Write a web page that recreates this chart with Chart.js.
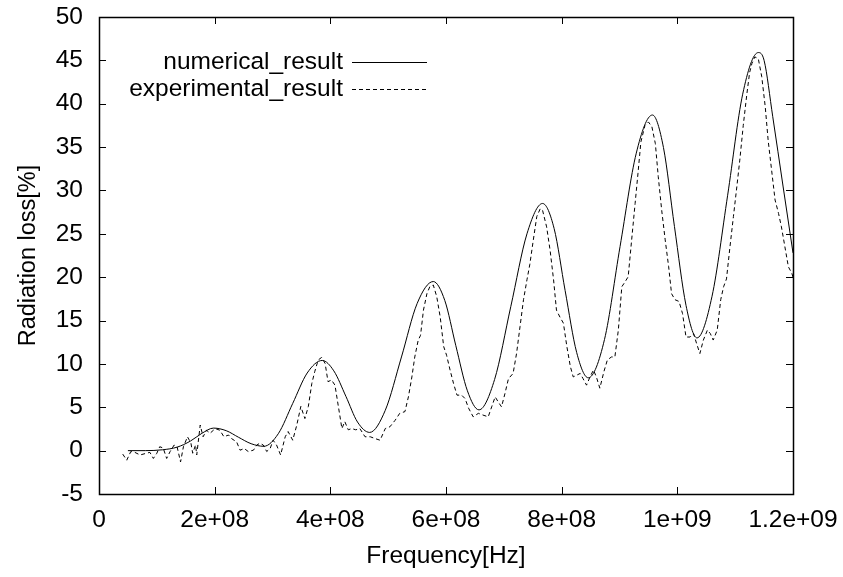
<!DOCTYPE html>
<html>
<head>
<meta charset="utf-8">
<script src="https://cdn.jsdelivr.net/npm/chart.js"></script>
<style>
  html, body { margin: 0; padding: 0; background: #ffffff; }
  #wrap { width: 843px; height: 577px; }
</style>
</head>
<body>
<div id="wrap"><canvas id="lossChart" width="843" height="577"></canvas></div>
<script>
// frequencies in MHz, loss in percent
var numFreq = [50, 80, 110, 135, 158, 178, 198, 220, 241, 263, 285, 310, 335, 360, 386, 406, 427, 447, 468,
    495, 523, 550, 578, 598, 617, 637, 657, 684, 712, 740, 767, 787, 806, 826, 846, 874, 901, 929, 957,
    976, 995, 1015, 1034, 1060, 1087, 1113, 1140, 1150, 1165, 1183, 1200];
var numLoss = [0.0, 0.0, 0.1, 0.4, 1.1, 2.0, 2.6, 2.3, 1.55, 0.8, 0.5, 1.95, 5.45, 8.95, 10.4, 9.2, 6.25, 3.3, 2.1,
    4.65, 10.8, 16.95, 19.5, 17.3, 12.1, 6.9, 4.7, 8.2, 16.6, 25.0, 28.5, 25.6, 18.45, 11.3, 8.4, 12.8, 23.55, 34.3, 38.7,
    34.95, 25.85, 16.75, 13.0, 17.8, 29.45, 41.1, 45.9, 45.0, 38.5, 30.4, 22.8];

var expFreq = [41, 48, 55, 62, 71, 82, 88, 94, 100, 105, 111, 117, 123, 130, 135, 141, 146, 153, 159, 162, 167, 169,
    175, 180, 186, 192, 201, 209, 216, 224, 229, 238, 244, 251, 258, 267, 273, 278, 284, 290, 296, 301, 307, 314,
    322, 327, 335, 342, 349, 356, 362, 368, 373, 379, 385, 391, 396, 402, 408, 414, 420, 425, 431, 437, 444, 451,
    460, 469, 477, 486, 495, 503, 512, 520, 529, 535, 541, 546, 552, 556, 561, 567, 572, 578, 584, 590, 596, 601,
    607, 613, 619, 627, 633, 639, 647, 656, 664, 673, 679, 685, 690, 696, 702, 708, 716, 722, 728, 734, 740, 745,
    751, 757, 763, 767, 774, 780, 786, 791, 797, 803, 809, 815, 820, 826, 832, 837, 843, 849, 855, 860, 866, 873,
    879, 886, 892, 898, 904, 910, 915, 921, 927, 932, 937, 944, 950, 956, 962, 967, 973, 979, 985, 990, 996, 1003,
    1009, 1015, 1022, 1028, 1034, 1039, 1045, 1052, 1057, 1062, 1069, 1075, 1080, 1085, 1091, 1097, 1103, 1108,
    1114, 1120, 1125, 1129, 1134, 1140, 1146, 1152, 1157, 1163, 1169, 1175, 1180, 1186, 1192, 1198, 1200];
var expLoss = [-0.4, -1.1, -0.1, -0.2, -0.5, -0.3, -0.2, -0.9, -0.3, 0.45, 0.3, -0.9, -0.1, 0.65, 0.45, -1.3, 0.45, 1.6, 0.85, -0.3, 0.65, -0.5,
    2.95, 1.6, 2.35, 2.0, 2.55, 2.35, 1.6, 1.8, 1.4, 1.0, 0.05, 0.25, -0.1, 0.05, 0.65, 0.85, 0.65, -0.1, 0.25, 1.2, 0.65, -0.5,
    1.6, 2.2, 1.2, 2.95, 5.1, 3.7, 5.1, 7.75, 9.1, 10.45, 10.75, 10.05, 7.95, 8.15, 7.55, 5.05, 2.55, 3.35, 2.4, 2.55, 2.4, 2.55,
    1.6, 1.6, 1.4, 1.2, 2.55, 2.75, 3.5, 4.3, 4.5, 6.2, 8.5, 10.8, 12.75, 13.3, 16.2, 18.1, 18.9, 19.1, 17.75, 15.4, 12.0, 11.0,
    9.3, 7.75, 6.4, 6.4, 6.0, 4.9, 3.9, 4.3, 4.1, 3.9, 5.05, 6.2, 5.65, 5.05, 6.6, 8.3, 8.9, 11.2, 14.3, 17.4, 19.7, 21.5,
    24.3, 27.0, 27.9, 27.7, 25.8, 23.1, 19.7, 16.2, 15.4, 14.7, 12.0, 9.7, 8.5, 8.7, 8.9, 8.3, 7.55, 8.5, 9.3, 8.5, 7.2, 9.1,
    10.45, 10.8, 10.8, 13.9, 18.9, 19.5, 20.05, 24.3, 28.5, 32.0, 35.6, 37.5, 37.9, 37.35, 35.4, 31.6, 27.7, 24.3, 21.2, 18.1, 17.4, 17.2,
    15.8, 13.1, 13.1, 13.5, 12.2, 11.2, 12.75, 13.9, 13.5, 12.75, 13.9, 17.4, 18.9, 19.8, 23.5, 27.0, 30.5, 33.5,
    37.5, 41.0, 43.6, 44.65, 45.4, 45.2, 43.1, 39.65, 35.8, 32.35, 28.9, 27.35, 25.8, 23.5, 21.2, 20.45, 20.0];

var xTicks = [0, 2e8, 4e8, 6e8, 8e8, 1e9, 1.2e9];
var yTicks = [-5, 0, 5, 10, 15, 20, 25, 30, 35, 40, 45, 50];

var FONT = '"Liberation Sans", Arial, sans-serif';
var FSIZE = 24.5;     // horizontal text
var YTITLE = 23.5;    // rotated axis title

function toPoints(freq, loss) {
    var pts = [];
    for (var i = 0; i < freq.length; i++) {
        pts.push({ x: freq[i] * 1e6, y: loss[i] });
    }
    return pts;
}

// gnuplot style exponent labels: 2e+08, 1.2e+09
function expLabel(v) {
    if (v === 0) return '0';
    var e = Math.floor(Math.log10(v) + 1e-9);
    var m = Math.round(v / Math.pow(10, e) * 10) / 10;
    return m + 'e+' + (e < 10 ? '0' + e : e);
}

// frame, inward ticks on all four sides, and the key
var gnuplotFrame = {
    id: 'gnuplotFrame',
    afterDatasetsDraw: function (chart) {
        var ctx = chart.ctx, a = chart.chartArea;
        var xs = chart.scales.x, ys = chart.scales.y;
        var tl = 7;
        ctx.save();
        ctx.strokeStyle = '#000';
        ctx.lineWidth = 1;
        ctx.setLineDash([]);
        ctx.beginPath();
        xTicks.forEach(function (v) {
            var px = Math.round(xs.getPixelForValue(v)) + 0.5;
            ctx.moveTo(px, a.bottom); ctx.lineTo(px, a.bottom - tl);
            ctx.moveTo(px, a.top); ctx.lineTo(px, a.top + tl);
        });
        yTicks.forEach(function (v) {
            var py = Math.round(ys.getPixelForValue(v)) + 0.5;
            ctx.moveTo(a.left, py); ctx.lineTo(a.left + tl, py);
            ctx.moveTo(a.right, py); ctx.lineTo(a.right - tl, py);
        });
        ctx.stroke();
        ctx.lineWidth = 1.5;
        ctx.strokeRect(Math.round(a.left) + 0.5, Math.round(a.top) + 0.5,
            Math.round(a.right - a.left), Math.round(a.bottom - a.top));

        // key, top left inside the plot
        ctx.font = FSIZE + 'px ' + FONT;
        ctx.fillStyle = '#000';
        ctx.textAlign = 'right';
        ctx.textBaseline = 'middle';
        ctx.lineWidth = 1;
        chart.data.datasets.forEach(function (ds, i) {
            var y = 62 + i * 27;
            ctx.fillText(ds.label, 343, y);
            ctx.setLineDash(ds.borderDash || []);
            ctx.beginPath();
            ctx.moveTo(352, y + 0.5);
            ctx.lineTo(427, y + 0.5);
            ctx.stroke();
        });
        ctx.restore();
    }
};

var config = {
    type: 'line',
    data: {
        datasets: [{
            label: 'numerical_result',
            data: toPoints(numFreq, numLoss),
            borderColor: '#000',
            borderWidth: 1,
            pointRadius: 0,
            fill: false,
            cubicInterpolationMode: 'monotone'
        }, {
            label: 'experimental_result',
            data: toPoints(expFreq, expLoss),
            borderColor: '#000',
            borderWidth: 1,
            borderDash: [4, 3],
            pointRadius: 0,
            fill: false,
            tension: 0
        }]
    },
    options: {
        responsive: false,
        animation: false,
        layout: { padding: { top: 17, right: 50, left: 0, bottom: 0 } },
        plugins: {
            legend: { display: false },
            tooltip: { enabled: false }
        },
        scales: {
            x: {
                type: 'linear',
                min: 0,
                max: 1.2e9,
                afterFit: function (s) {
                    s.height = 83;
                    s.paddingLeft = 0;
                    s.paddingRight = 0;
                },
                afterBuildTicks: function (s) {
                    s.ticks = xTicks.map(function (v) { return { value: v }; });
                },
                grid: { display: false, drawTicks: false },
                border: { display: false },
                ticks: {
                    color: '#000',
                    padding: 12,
                    maxRotation: 0,
                    font: { family: FONT, size: FSIZE },
                    callback: function (v) { return expLabel(v); }
                },
                title: {
                    display: true,
                    text: 'Frequency[Hz]',
                    color: '#000',
                    padding: { top: 0, bottom: 6 },
                    font: { family: FONT, size: FSIZE }
                }
            },
            y: {
                min: -5,
                max: 50,
                afterFit: function (s) {
                    s.width = 99;
                    s.paddingTop = 0;
                    s.paddingBottom = 0;
                },
                afterBuildTicks: function (s) {
                    s.ticks = yTicks.map(function (v) { return { value: v }; });
                },
                grid: { display: false, drawTicks: false },
                border: { display: false },
                ticks: {
                    color: '#000',
                    padding: 16,
                    font: { family: FONT, size: FSIZE }
                },
                title: {
                    display: true,
                    text: 'Radiation loss[%]',
                    color: '#000',
                    padding: { top: 14, bottom: 0 },
                    font: { family: FONT, size: YTITLE }
                }
            }
        }
    },
    plugins: [gnuplotFrame]
};

var ctx = document.getElementById('lossChart').getContext('2d');
var lossChart = new Chart(ctx, config);
</script>
</body>
</html>
